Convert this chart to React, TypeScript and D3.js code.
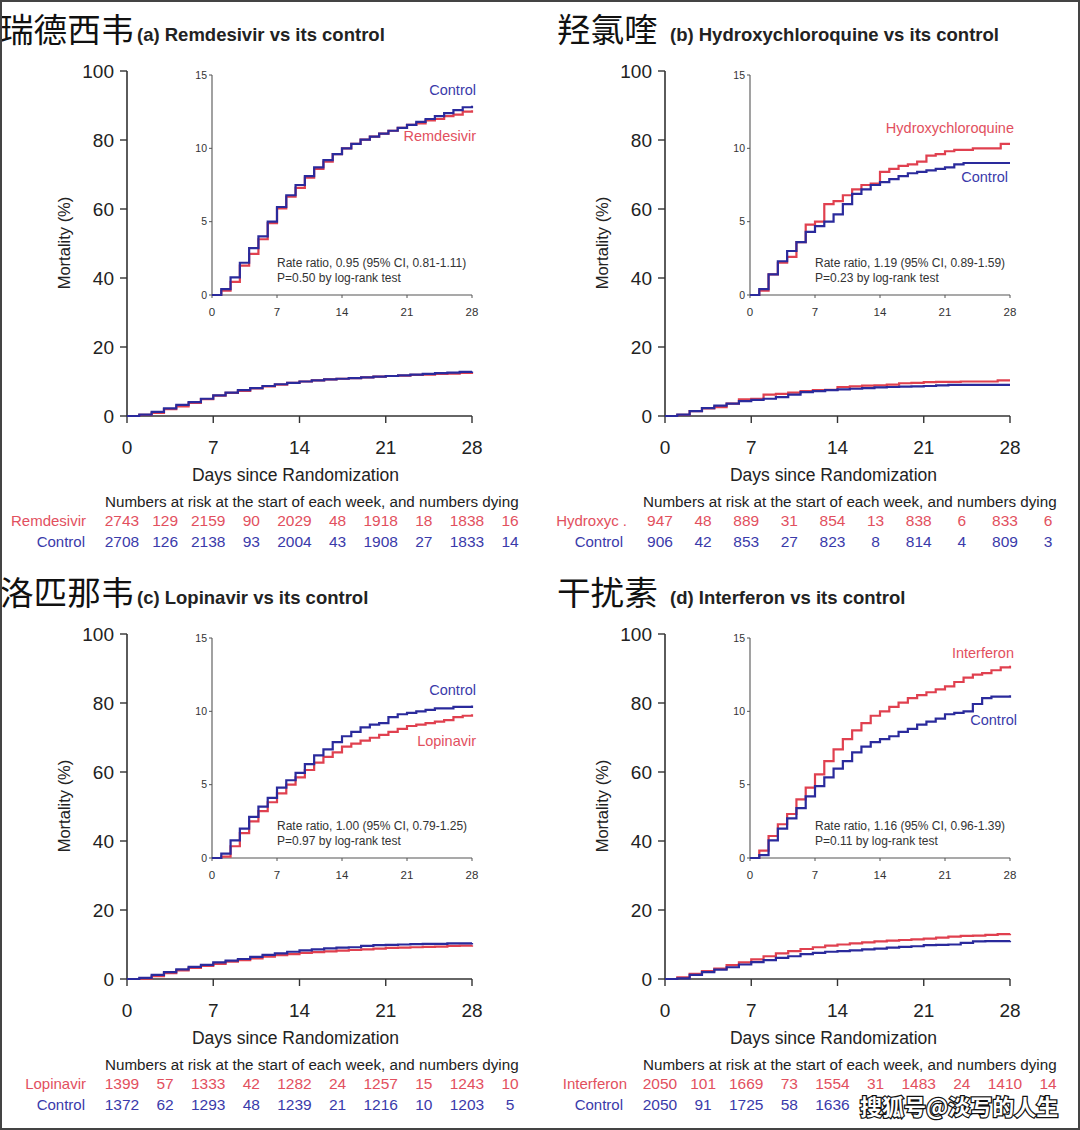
import React, { useEffect } from "react";
import * as d3 from "d3";

// ---------- DATA ----------
const days = [0, 1, 2, 3, 4, 5, 6, 7, 8, 9, 10, 11, 12, 13, 14, 15, 16, 17, 18, 19, 20, 21, 22, 23, 24, 25, 26, 27, 28];
const xTicks = [0, 7, 14, 21, 28];
const yTicksMain = [0, 20, 40, 60, 80, 100];
const yTicksInset = [0, 5, 10, 15];
const riskColumnDays = [0, 3.5, 7, 10.5, 14, 17.5, 21, 24.5, 28, 31.5];

// cumulative mortality (%)
const remdesivirArm = [0, 0.3, 0.9, 2.0, 2.8, 3.8, 4.9, 5.9, 6.7, 7.3, 8.0, 8.6, 9.1, 9.6, 10.0, 10.3, 10.6, 10.8, 11.0, 11.2, 11.4, 11.6, 11.7, 11.9, 12.0, 12.2, 12.3, 12.5, 12.6];
const remdesivirControl = [0, 0.4, 1.2, 2.2, 3.2, 4.0, 5.0, 6.0, 6.8, 7.5, 8.1, 8.7, 9.2, 9.6, 10.0, 10.3, 10.6, 10.8, 11.0, 11.2, 11.4, 11.6, 11.8, 12.0, 12.2, 12.4, 12.6, 12.8, 12.9];
const hcqArm = [0, 0.3, 1.4, 2.2, 2.6, 3.6, 4.8, 5.0, 6.2, 6.4, 6.8, 7.2, 7.5, 7.6, 8.4, 8.6, 8.8, 8.9, 9.1, 9.5, 9.6, 9.8, 9.9, 9.9, 10.0, 10.0, 10.0, 10.3, 10.3];
const hcqControl = [0, 0.4, 1.4, 2.3, 3.0, 3.6, 4.3, 4.7, 5.0, 5.5, 6.2, 6.9, 7.2, 7.5, 7.7, 7.9, 8.1, 8.3, 8.4, 8.5, 8.6, 8.7, 8.9, 9.0, 9.0, 9.0, 9.0, 9.0, 9.0];
const lopinavirArm = [0, 0.1, 0.8, 1.7, 2.5, 3.2, 3.8, 4.4, 5.0, 5.5, 6.0, 6.5, 6.9, 7.2, 7.6, 7.8, 8.0, 8.2, 8.4, 8.6, 8.8, 9.0, 9.1, 9.2, 9.3, 9.4, 9.6, 9.7, 9.8];
const lopinavirControl = [0, 0.3, 1.2, 2.0, 2.8, 3.5, 4.1, 4.8, 5.3, 5.8, 6.4, 7.0, 7.4, 7.9, 8.3, 8.6, 8.9, 9.1, 9.2, 9.6, 9.8, 9.9, 10.0, 10.1, 10.2, 10.2, 10.3, 10.3, 10.4];
const interferonArm = [0, 0.5, 1.5, 2.3, 3.0, 4.0, 4.8, 5.7, 6.6, 7.4, 8.1, 8.7, 9.2, 9.7, 10.0, 10.3, 10.6, 10.9, 11.1, 11.3, 11.5, 11.7, 12.0, 12.3, 12.5, 12.6, 12.8, 13.0, 13.1];
const interferonControl = [0, 0.2, 1.2, 2.0, 2.7, 3.4, 4.2, 4.9, 5.5, 6.1, 6.6, 7.2, 7.6, 7.9, 8.1, 8.3, 8.6, 8.8, 9.1, 9.3, 9.5, 9.8, 9.9, 10.0, 10.5, 10.9, 11.0, 11.0, 11.1];

// numbers at risk / dying
const remdesivirRiskArm = ["2743", "129", "2159", "90", "2029", "48", "1918", "18", "1838", "16"];
const remdesivirRiskControl = ["2708", "126", "2138", "93", "2004", "43", "1908", "27", "1833", "14"];
const hcqRiskArm = ["947", "48", "889", "31", "854", "13", "838", "6", "833", "6"];
const hcqRiskControl = ["906", "42", "853", "27", "823", "8", "814", "4", "809", "3"];
const lopinavirRiskArm = ["1399", "57", "1333", "42", "1282", "24", "1257", "15", "1243", "10"];
const lopinavirRiskControl = ["1372", "62", "1293", "48", "1239", "21", "1216", "10", "1203", "5"];
const interferonRiskArm = ["2050", "101", "1669", "73", "1554", "31", "1483", "24", "1410", "14"];
const interferonRiskControl = ["2050", "91", "1725", "58", "1636", "", "", "", "", "5"];

const panels = [
  { cn: "瑞德西韦", title: "(a) Remdesivir vs its control", arm: "Remdesivir", armShort: "Remdesivir", armData: remdesivirArm, ctrlData: remdesivirControl, riskArm: remdesivirRiskArm, riskCtrl: remdesivirRiskControl, rate: "Rate ratio, 0.95 (95% CI, 0.81-1.11)", p: "P=0.50 by log-rank test" },
  { cn: "羟氯喹", title: "(b) Hydroxychloroquine vs its control", arm: "Hydroxychloroquine", armShort: "Hydroxyc .", armData: hcqArm, ctrlData: hcqControl, riskArm: hcqRiskArm, riskCtrl: hcqRiskControl, rate: "Rate ratio, 1.19 (95% CI, 0.89-1.59)", p: "P=0.23 by log-rank test" },
  { cn: "洛匹那韦", title: "(c) Lopinavir vs its control", arm: "Lopinavir", armShort: "Lopinavir", armData: lopinavirArm, ctrlData: lopinavirControl, riskArm: lopinavirRiskArm, riskCtrl: lopinavirRiskControl, rate: "Rate ratio, 1.00 (95% CI, 0.79-1.25)", p: "P=0.97 by log-rank test" },
  { cn: "干扰素", title: "(d) Interferon vs its control", arm: "Interferon", armShort: "Interferon", armData: interferonArm, ctrlData: interferonControl, riskArm: interferonRiskArm, riskCtrl: interferonRiskControl, rate: "Rate ratio, 1.16 (95% CI, 0.96-1.39)", p: "P=0.11 by log-rank test" },
];

// ---------- STYLE / LAYOUT ----------
const RED = "#e0404f";
const BLUE = "#2a2a9c";
const RED_TXT = "#e2505e";
const BLUE_TXT = "#3a3aaa";
const AX = "#333";
const FONT = "'Liberation Sans', Arial, sans-serif";
const CJK = "'Noto Sans CJK SC', sans-serif";

const layout = [
  { ox: 0, oy: 0, cnX: 0, titleX: 137, armLblY: 136, ctrlLblY: 90, armLblX: 476, ctrlLblX: 476, lblArmX: 86, lblCtrlX: 85 },
  { ox: 538, oy: 0, cnX: 557, titleX: 670, armLblY: 128, ctrlLblY: 177, armLblX: 1014, ctrlLblX: 1008, lblArmX: 627, lblCtrlX: 623 },
  { ox: 0, oy: 563, cnX: 0, titleX: 137, armLblY: 741, ctrlLblY: 690, armLblX: 476, ctrlLblX: 476, lblArmX: 86, lblCtrlX: 85 },
  { ox: 538, oy: 563, cnX: 557, titleX: 670, armLblY: 653, ctrlLblY: 720, armLblX: 1014, ctrlLblX: 1017, lblArmX: 627, lblCtrlX: 623 },
];

function Panel({ p, L }: any) {
  const { ox, oy } = L;
  const x = d3.scaleLinear().domain([0, 28]).range([127 + ox, 472 + ox]);
  const y = d3.scaleLinear().domain([0, 100]).range([416 + oy, 71 + oy]);
  const xi = d3.scaleLinear().domain([0, 28]).range([212 + ox, 472 + ox]);
  const yi = d3.scaleLinear().domain([0, 15]).range([295 + oy, 75 + oy]);

  const mainLine = d3.line<number>().x((_, i) => x(days[i])).y((v) => y(v)).curve(d3.curveStepAfter);
  const insetLine = d3.line<number>().x((_, i) => xi(days[i])).y((v) => yi(v)).curve(d3.curveStepAfter);

  const tableY1 = 521 + oy + 5;
  const tableY2 = 542 + oy + 5;

  return (
    <g>
      {/* titles */}
      <text x={L.cnX} y={42 + oy} fontFamily={CJK} fontSize={33} fill="#111" textLength={p.cn.length * 33.6} lengthAdjust="spacingAndGlyphs">{p.cn}</text>
      <text x={L.titleX} y={41 + oy} fontFamily={FONT} fontSize={18.5} fontWeight="bold" fill="#222">{p.title}</text>

      {/* main axes */}
      <line x1={x(0)} x2={x(0)} y1={y(0)} y2={y(100)} stroke={AX} strokeWidth={1.6} />
      <line x1={x(0)} x2={x(28)} y1={y(0)} y2={y(0)} stroke={AX} strokeWidth={1.6} />
      {yTicksMain.map((t) => (
        <g key={"ym" + t}>
          <line x1={x(0) - 7} x2={x(0)} y1={y(t)} y2={y(t)} stroke={AX} strokeWidth={1.4} />
          <text x={x(0) - 13} y={y(t) + 6.5} textAnchor="end" fontFamily={FONT} fontSize={19} fill="#222">{t}</text>
        </g>
      ))}
      {xTicks.map((t) => (
        <g key={"xm" + t}>
          <line x1={x(t)} x2={x(t)} y1={y(0)} y2={y(0) + 7} stroke={AX} strokeWidth={1.4} />
          <text x={x(t)} y={y(0) + 38} textAnchor="middle" fontFamily={FONT} fontSize={19} fill="#222">{t}</text>
        </g>
      ))}
      <text transform={`translate(${70 + ox},${243 + oy}) rotate(-90)`} textAnchor="middle" fontFamily={FONT} fontSize={16.5} fill="#222">Mortality (%)</text>
      <text x={x(14) - 4} y={481 + oy} textAnchor="middle" fontFamily={FONT} fontSize={17.5} fill="#222">Days since Randomization</text>

      <path d={mainLine(p.armData) || ""} fill="none" stroke={RED} strokeWidth={2.2} />
      <path d={mainLine(p.ctrlData) || ""} fill="none" stroke={BLUE} strokeWidth={2.2} />

      {/* inset */}
      <line x1={xi(0)} x2={xi(0)} y1={yi(0)} y2={yi(15)} stroke="#555" strokeWidth={1.1} />
      <line x1={xi(0)} x2={xi(28)} y1={yi(0)} y2={yi(0)} stroke="#555" strokeWidth={1.1} />
      {yTicksInset.map((t) => (
        <g key={"yi" + t}>
          <line x1={xi(0) - 3} x2={xi(0)} y1={yi(t)} y2={yi(t)} stroke="#555" strokeWidth={1} />
          <text x={xi(0) - 5} y={yi(t) + 3.5} textAnchor="end" fontFamily={FONT} fontSize={10.5} fill="#333">{t}</text>
        </g>
      ))}
      {xTicks.map((t) => (
        <g key={"xi" + t}>
          <line x1={xi(t)} x2={xi(t)} y1={yi(0)} y2={yi(0) + 3} stroke="#555" strokeWidth={1} />
          <text x={xi(t)} y={yi(0) + 21} textAnchor="middle" fontFamily={FONT} fontSize={11.5} fill="#333">{t}</text>
        </g>
      ))}
      <path d={insetLine(p.armData) || ""} fill="none" stroke={RED} strokeWidth={2.2} />
      <path d={insetLine(p.ctrlData) || ""} fill="none" stroke={BLUE} strokeWidth={2.2} />
      <text x={L.armLblX} y={L.armLblY + 5} textAnchor="end" fontFamily={FONT} fontSize={14.5} fill={RED_TXT}>{p.arm}</text>
      <text x={L.ctrlLblX} y={L.ctrlLblY + 5} textAnchor="end" fontFamily={FONT} fontSize={14.5} fill={BLUE_TXT}>Control</text>
      <text x={xi(7)} y={267 + oy} fontFamily={FONT} fontSize={12} fill="#333">{p.rate}</text>
      <text x={xi(7)} y={282 + oy} fontFamily={FONT} fontSize={12} fill="#333">{p.p}</text>

      {/* risk table */}
      <text x={105 + ox} y={507 + oy} fontFamily={FONT} fontSize={15.2} fill="#222">Numbers at risk at the start of each week, and numbers dying</text>
      <text x={L.lblArmX} y={tableY1} textAnchor="end" fontFamily={FONT} fontSize={15} fill={RED_TXT}>{p.armShort}</text>
      <text x={L.lblCtrlX} y={tableY2} textAnchor="end" fontFamily={FONT} fontSize={15} fill={BLUE_TXT}>Control</text>
      {p.riskArm.map((v: string, i: number) => (
        <text key={"ra" + i} x={x(riskColumnDays[i]) - 5} y={tableY1} textAnchor="middle" fontFamily={FONT} fontSize={15.5} fill={RED_TXT}>{v}</text>
      ))}
      {p.riskCtrl.map((v: string, i: number) => (
        <text key={"rc" + i} x={x(riskColumnDays[i]) - 5} y={tableY2} textAnchor="middle" fontFamily={FONT} fontSize={15.5} fill={BLUE_TXT}>{v}</text>
      ))}
    </g>
  );
}

export default function App() {
  useEffect(() => {
    document.body.style.margin = "0";
  }, []);
  return (
    <svg width={1080} height={1130} style={{ position: "absolute", left: 0, top: 0, background: "#fff" }}>
      <rect x={0} y={0} width={1080} height={1130} fill="#fff" />
      {panels.map((p, i) => (
        <Panel key={i} p={p} L={layout[i]} />
      ))}
      <text x={860} y={1115} fontFamily={CJK} fontSize={22} fontWeight="bold" fill="#fff" stroke="#111" strokeWidth={2.5} style={{ paintOrder: "stroke" }}>搜狐号@淡写的人生</text>
      <rect x={1} y={1} width={1078} height={1128} fill="none" stroke="#444" strokeWidth={2} />
    </svg>
  );
}
